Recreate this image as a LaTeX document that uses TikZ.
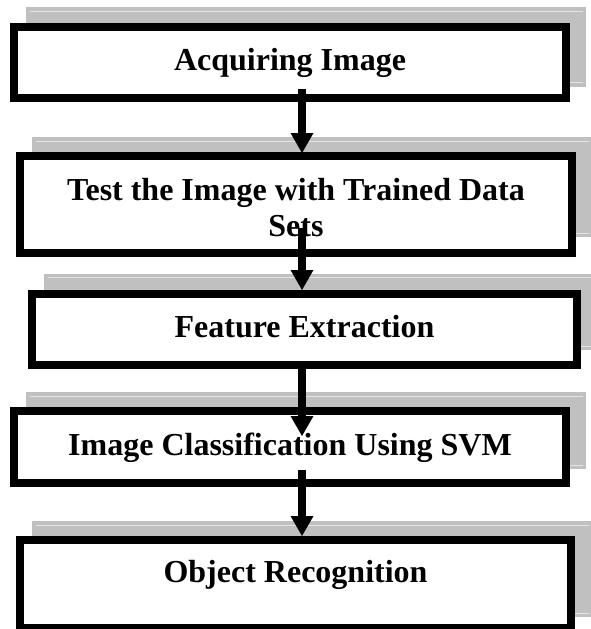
\documentclass[tikz,border=0pt]{standalone}
\usepackage{fontspec}
\setmainfont{Liberation Serif}
\usetikzlibrary{arrows.meta}
\definecolor{shadowgray}{HTML}{C0C0C0}
\definecolor{shadowhi}{HTML}{E4E4E4}
\tikzset{
  shadowbox/.style={fill=shadowgray, draw=none},
  hiline/.style={draw=shadowhi, line width=1pt},
  stagebox/.style={draw=black, fill=white, line width=8pt, inner sep=0pt, rectangle},
  stagetext/.style={font=\bfseries\fontsize{32}{36}\selectfont, anchor=base, inner sep=0pt},
  flowarrow/.style={draw=black, line width=7.5pt,
    -{Triangle[width=23pt,length=20pt,line width=0pt]}},
}
\begin{document}
\begin{tikzpicture}[x=1pt,y=-1pt]
\useasboundingbox (0,0) rectangle (591,629);
% shadows
\fill[shadowbox] (26,7) rectangle (586,87);
\draw[hiline] (30,11) -- (583,11) (30,82) -- (583,82);
\fill[shadowbox] (32,137) rectangle (592,237);
\draw[hiline] (36,141) -- (589,141) (36,233) -- (589,233);
\fill[shadowbox] (44,274) rectangle (598,350);
\draw[hiline] (48,277) -- (595,277) (48,346) -- (595,346);
\fill[shadowbox] (26,392) rectangle (586,469);
\draw[hiline] (30,396) -- (583,396) (30,465) -- (583,465);
\fill[shadowbox] (32,521) rectangle (592,617);
\draw[hiline] (36,525) -- (589,525) (36,613) -- (589,613);
% boxes
\node[stagebox, minimum width=552pt, minimum height=71pt] (b1) at (290,62.5) {};
\node[stagebox, minimum width=552pt, minimum height=97pt] (b2) at (296,204.5) {};
\node[stagebox, minimum width=545pt, minimum height=71pt] (b3) at (304.5,329.5) {};
\node[stagebox, minimum width=552pt, minimum height=72pt] (b4) at (290,447) {};
\node[stagebox, minimum width=551pt, minimum height=88pt] (b5) at (295.5,584) {};
% texts
\node[stagetext] (t1) at (290,70) {Acquiring Image};
\node[stagetext] (t2a) at (296,200) {Test the Image with Trained Data};
\node[stagetext] (t2b) at (296,236) {Sets};
\node[stagetext] (t3) at (304.5,337.5) {Feature Extraction};
\node[stagetext] (t4) at (290,455.5) {Image Classification Using SVM};
\node[stagetext] (t5) at (295.5,582.7) {Object Recognition};
% connector anchors
\coordinate (a1s) at (302,89);
\coordinate (a1e) at (302,153);
\coordinate (a2s) at (302,228);
\coordinate (a2e) at (302,290);
\coordinate (a3s) at (302,368);
\coordinate (a3e) at (302,436);
\coordinate (a4s) at (302,470);
\coordinate (a4e) at (302,536);
\draw[flowarrow] (a1s) -- (a1e);
\draw[flowarrow] (a2s) -- (a2e);
\draw[flowarrow] (a3s) -- (a3e);
\draw[flowarrow] (a4s) -- (a4e);
\end{tikzpicture}
\end{document}
